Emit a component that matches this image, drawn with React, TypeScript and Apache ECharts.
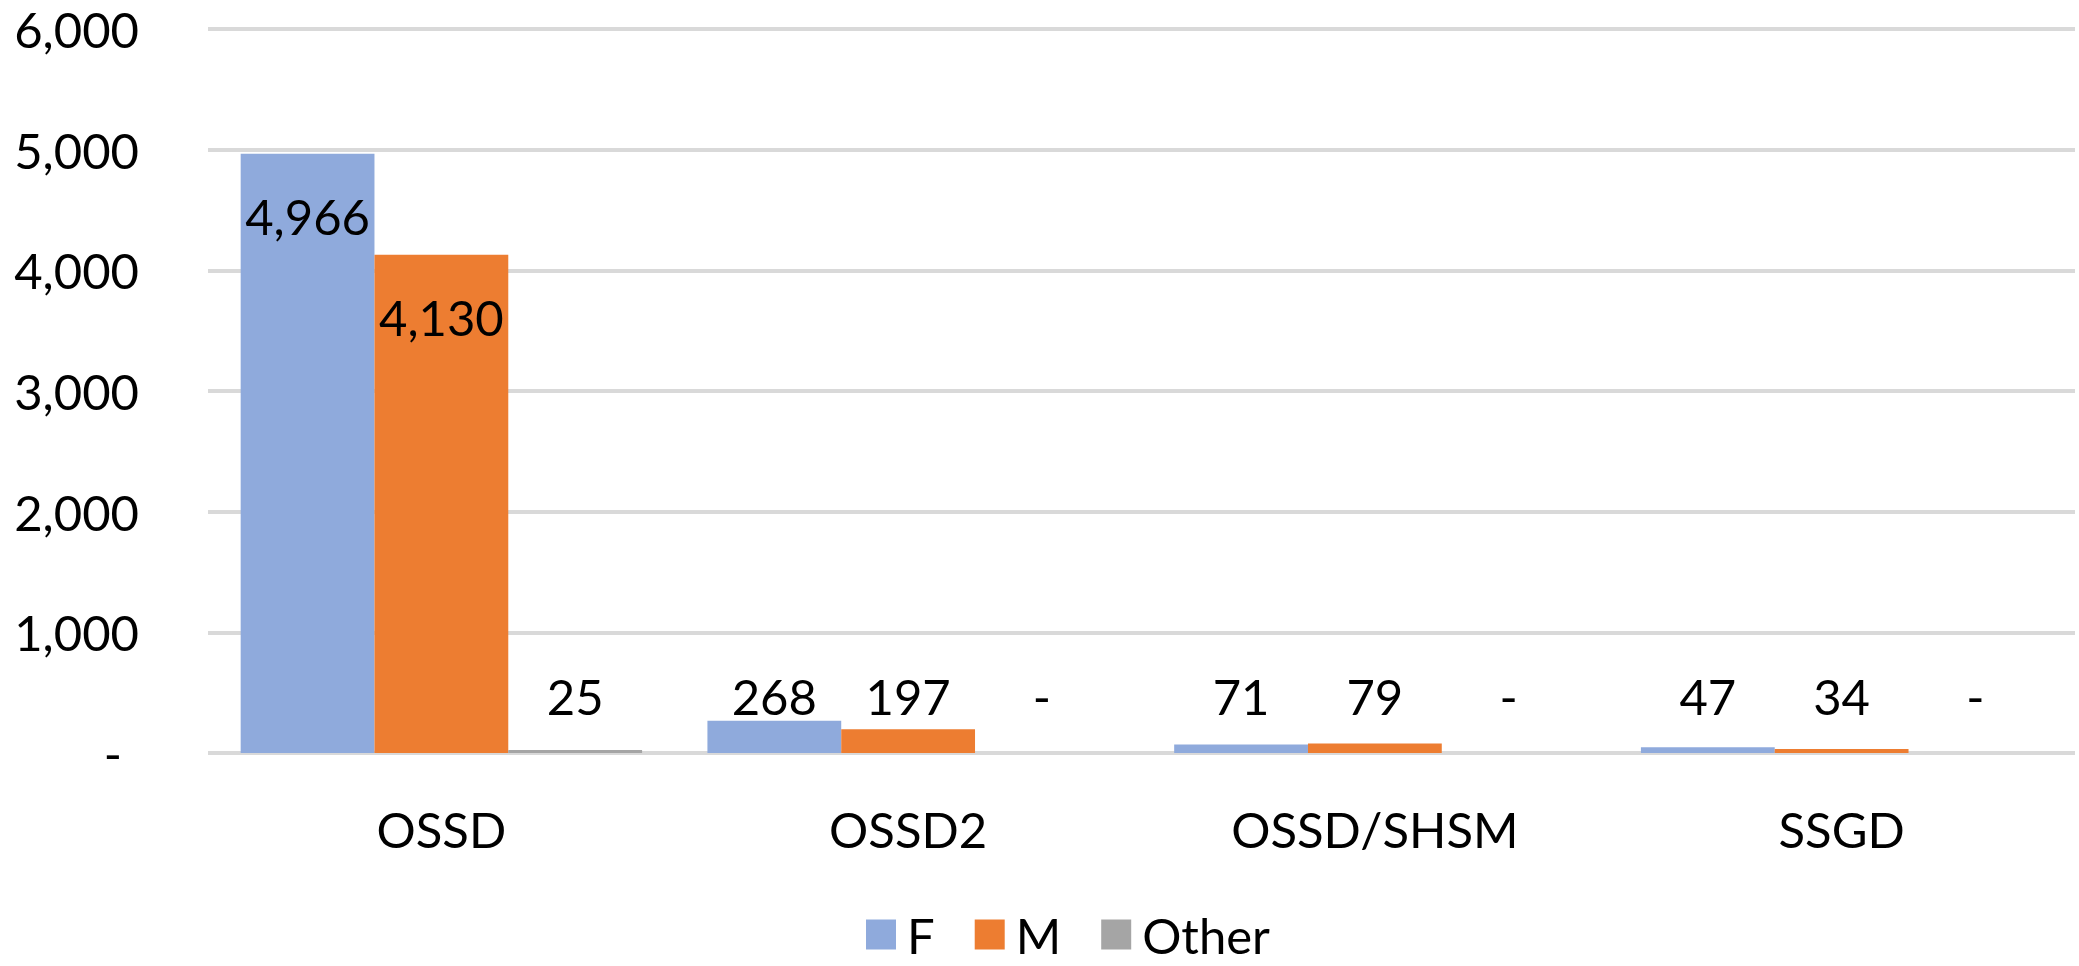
import React, { useEffect, useRef } from "react";
import * as echarts from "echarts";

const categories = ["OSSD", "OSSD2", "OSSD/SHSM", "SSGD"];
const seriesNames = ["F", "M", "Other"];
const valuesF = [4966, 268, 71, 47];
const valuesM = [4130, 197, 79, 34];
const valuesOther = [25, 0, 0, 0];
const colors = ["#8FAADC", "#ED7D31", "#A5A5A5"];
const yTicks = { min: 0, max: 6000, interval: 1000 };

const FONT = "Lato";
const FS = 49;

const fmt = (v: number) => (v === 0 ? "-" : v.toLocaleString("en-US"));

function makeData(vals: number[]) {
  return vals.map((v) => {
    const big = v > 1000;
    return {
      value: v,
      label: big
        ? { position: "insideTop", distance: 38 }
        : { position: "insideBottom", distance: 33 },
    };
  });
}

export default function App() {
  const ref = useRef<HTMLDivElement>(null);
  useEffect(() => {
    document.body.style.margin = "0";
    const chart = echarts.init(ref.current!, undefined, { renderer: "svg" });
    const all = [valuesF, valuesM, valuesOther];
    chart.setOption({
      animation: false,
      backgroundColor: "#fff",
      textStyle: { fontFamily: FONT },
      grid: { left: 208, right: 4, top: 29, bottom: 213, containLabel: false },
      legend: {
        data: seriesNames,
        left: 861,
        top: 905,
        itemWidth: 30,
        itemHeight: 30,
        itemGap: 40,
        icon: "rect",
        textStyle: { fontSize: FS, color: "#000", fontFamily: FONT, padding: [0, 0, 0, 6] },
      },
      xAxis: {
        type: "category",
        data: categories,
        axisLine: { show: false },
        axisTick: { show: false },
        axisLabel: { fontSize: FS, color: "#000", fontFamily: FONT, margin: 51, lineHeight: 50 },
      },
      yAxis: {
        type: "value",
        min: yTicks.min,
        max: yTicks.max,
        interval: yTicks.interval,
        axisLine: { show: false },
        axisTick: { show: false },
        splitLine: { lineStyle: { color: "#D9D9D9", width: 4 } },
        axisLabel: {
          fontSize: FS,
          color: "#000",
          fontFamily: FONT,
          margin: 69,
          formatter: (v: number) => (v === 0 ? "{d|-}" : v.toLocaleString("en-US")),
          rich: { d: { fontSize: FS, color: "#000", fontFamily: FONT, padding: [0, 17, 0, 0] } },
        },
      },
      series: all.map((vals, i) => ({
        name: seriesNames[i],
        type: "bar",
        data: makeData(vals),
        itemStyle: { color: colors[i] },
        barGap: "0%",
        barCategoryGap: "14%",
        label: {
          show: true,
          fontSize: FS,
          color: "#000",
          fontFamily: FONT,
          formatter: (p: any) => fmt(p.value),
        },
      })),
    });
    return () => chart.dispose();
  }, []);
  return <div ref={ref} style={{ width: 2079, height: 966 }} />;
}
